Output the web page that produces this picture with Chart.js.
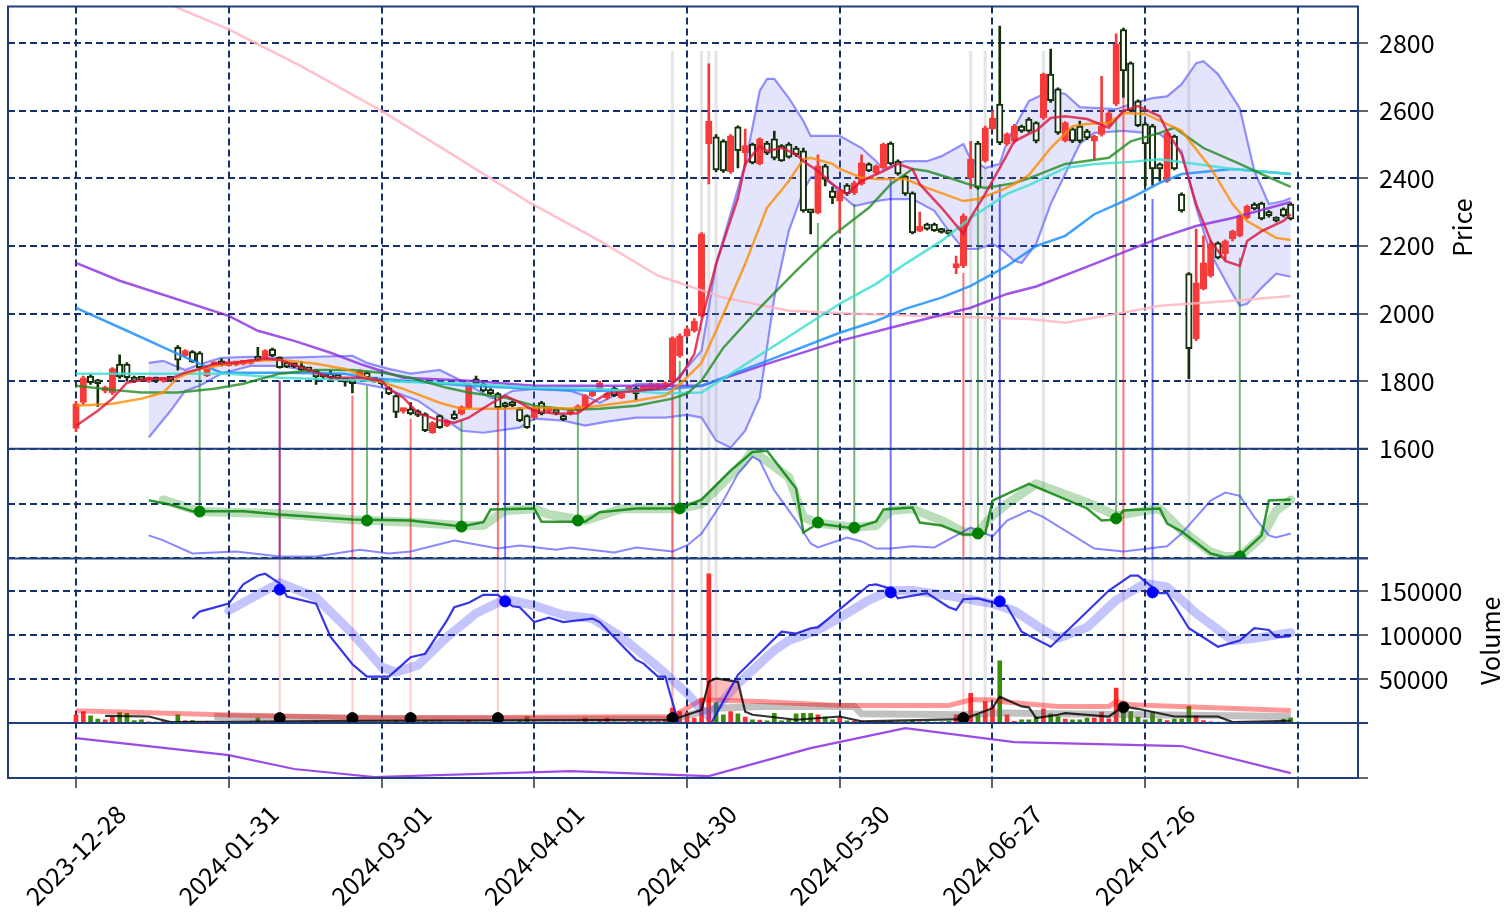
<!DOCTYPE html>
<html>
<head>
<meta charset="utf-8">
<script src="https://cdn.jsdelivr.net/npm/chart.js@4.4.1/dist/chart.umd.min.js"></script>
<style>
  html, body { margin: 0; padding: 0; background: #fff; }
  canvas { display: block; }
</style>
</head>
<body>
<canvas id="chart" width="1504" height="914"></canvas>
<script>
// x tick labels, one every 21 trading days
const tickLabels = ['2023-12-28', '2024-01-31', '2024-03-01', '2024-04-01', '2024-04-30', '2024-05-30', '2024-06-27', '2024-07-26', ''];
const tickEvery = 21;

// daily candles
const opens = [
  1660, 1737, 1815, 1800, 1770, 1765, 1850, 1850, 1812, 1810,
  1800, 1810, 1800, 1810, 1900, 1875, 1887, 1884, 1816, 1845,
  1860, 1846, 1848, 1850, 1852, 1870, 1868, 1895, 1870, 1855,
  1850, 1845, 1838, 1832, 1820, 1822, 1815, 1805, 1800, 1810,
  1825, 1807, 1801, 1780, 1757, 1710, 1718, 1712, 1703, 1647,
  1698, 1668, 1703, 1703, 1721, 1807, 1792, 1775, 1763, 1733,
  1736, 1718, 1698, 1692, 1736, 1710, 1712, 1698, 1703, 1712,
  1721, 1757, 1777, 1751, 1780, 1751, 1771, 1780, 1771, 1777,
  1780, 1783, 1801, 1875, 1934, 1949, 1993, 2502, 2523, 2511,
  2420, 2553, 2476, 2502, 2443, 2505, 2517, 2497, 2502, 2490,
  2482, 2304, 2298, 2437, 2363, 2333, 2380, 2357, 2384, 2443,
  2416, 2432, 2505, 2451, 2407, 2357, 2244, 2265, 2265, 2250,
  2244, 2136, 2141, 2402, 2505, 2452, 2547, 2620, 2502, 2510,
  2555, 2576, 2565, 2579, 2709, 2665, 2512, 2547, 2555, 2540,
  2510, 2530, 2560, 2620, 2841, 2742, 2630, 2562, 2556, 2443,
  2392, 2525, 2354, 2118, 1925, 2073, 2111, 2209, 2177, 2221,
  2230, 2283, 2324, 2327, 2300, 2283, 2310, 2324
];
const highs = [
  1740, 1815, 1820, 1805, 1785, 1840, 1878, 1855, 1815, 1812,
  1812, 1812, 1810, 1812, 1905, 1893, 1890, 1887, 1840, 1857,
  1866, 1855, 1858, 1860, 1863, 1900, 1893, 1898, 1872, 1857,
  1852, 1858, 1840, 1835, 1822, 1832, 1818, 1807, 1803, 1833,
  1828, 1810, 1805, 1783, 1760, 1720, 1736, 1715, 1706, 1680,
  1700, 1686, 1712, 1727, 1795, 1815, 1795, 1778, 1766, 1738,
  1740, 1722, 1700, 1724, 1740, 1720, 1716, 1701, 1718, 1730,
  1760, 1770, 1800, 1766, 1783, 1763, 1783, 1786, 1789, 1795,
  1793, 1798, 1931, 1940, 1960, 1985, 2240, 2739, 2530, 2515,
  2530, 2556, 2546, 2505, 2520, 2510, 2540, 2500, 2506, 2495,
  2490, 2306, 2470, 2442, 2375, 2367, 2385, 2392, 2470, 2446,
  2440, 2505, 2508, 2455, 2410, 2360, 2300, 2268, 2268, 2252,
  2246, 2170, 2295, 2510, 2510, 2555, 2600, 2851, 2535, 2560,
  2558, 2580, 2568, 2712, 2783, 2668, 2568, 2550, 2570, 2545,
  2528, 2702, 2598, 2828, 2845, 2745, 2633, 2565, 2560, 2446,
  2538, 2528, 2357, 2121, 2250, 2230, 2215, 2212, 2218, 2247,
  2292, 2321, 2328, 2330, 2305, 2286, 2313, 2328
];
const lows = [
  1650, 1730, 1790, 1725, 1765, 1760, 1808, 1800, 1795, 1798,
  1796, 1795, 1797, 1798, 1832, 1872, 1855, 1838, 1813, 1843,
  1845, 1844, 1846, 1848, 1850, 1858, 1865, 1872, 1838, 1840,
  1840, 1830, 1826, 1790, 1808, 1800, 1803, 1785, 1765, 1808,
  1808, 1797, 1790, 1760, 1692, 1705, 1700, 1695, 1650, 1645,
  1660, 1665, 1686, 1700, 1718, 1790, 1768, 1760, 1718, 1720,
  1724, 1680, 1660, 1690, 1700, 1706, 1700, 1683, 1700, 1708,
  1718, 1754, 1774, 1745, 1754, 1748, 1768, 1745, 1768, 1774,
  1777, 1780, 1798, 1870, 1930, 1945, 1990, 2384, 2420, 2418,
  2415, 2431, 2437, 2443, 2440, 2470, 2455, 2450, 2460, 2465,
  2300, 2236, 2295, 2378, 2325, 2239, 2350, 2352, 2380, 2420,
  2412, 2430, 2440, 2410, 2350, 2236, 2242, 2247, 2243, 2238,
  2230, 2118, 2136, 2370, 2368, 2448, 2545, 2500, 2498, 2505,
  2536, 2537, 2505, 2575, 2625, 2530, 2508, 2506, 2506, 2515,
  2457, 2525, 2556, 2615, 2640, 2597, 2553, 2378, 2380, 2392,
  2388, 2425, 2300, 1807, 1920, 2070, 2108, 2162, 2160, 2215,
  2227, 2280, 2307, 2277, 2285, 2271, 2286, 2277
];
const closes = [
  1733, 1810, 1795, 1792, 1780, 1837, 1812, 1810, 1800, 1803,
  1808, 1800, 1807, 1802, 1862, 1890, 1857, 1840, 1837, 1854,
  1848, 1852, 1856, 1857, 1860, 1862, 1890, 1875, 1840, 1842,
  1843, 1832, 1830, 1812, 1812, 1810, 1808, 1797, 1792, 1830,
  1810, 1800, 1792, 1763, 1707, 1714, 1703, 1698, 1653, 1677,
  1662, 1683, 1689, 1724, 1792, 1792, 1771, 1763, 1721, 1724,
  1727, 1683, 1662, 1721, 1703, 1716, 1705, 1686, 1715, 1727,
  1757, 1766, 1795, 1763, 1757, 1760, 1780, 1763, 1786, 1792,
  1790, 1795, 1928, 1934, 1955, 1978, 2236, 2570, 2425, 2422,
  2526, 2482, 2497, 2446, 2517, 2475, 2460, 2452, 2463, 2470,
  2304, 2298, 2437, 2398, 2343, 2363, 2355, 2387, 2446, 2422,
  2437, 2502, 2443, 2413, 2354, 2239, 2259, 2250, 2245, 2240,
  2236, 2147, 2289, 2458, 2372, 2550, 2579, 2505, 2532, 2555,
  2540, 2540, 2510, 2709, 2630, 2535, 2565, 2510, 2510, 2520,
  2525, 2555, 2594, 2798, 2718, 2600, 2556, 2502, 2428, 2428,
  2535, 2428, 2304, 1896, 2091, 2150, 2206, 2165, 2215, 2244,
  2289, 2318, 2310, 2280, 2290, 2274, 2289, 2280
];
const volumes = [
  9500, 13000, 8300, 4500, 3800, 6800, 12000, 11000, 3000, 3800,
  1500, 1200, 1800, 1000, 9500, 2500, 3000, 1500, 2000, 1200,
  1500, 1000, 900, 1200, 1500, 5700, 2000, 1500, 1800, 1200,
  1000, 1500, 1200, 2000, 1000, 1200, 900, 1100, 1500, 1200,
  900, 1000, 1200, 1500, 2500, 1200, 1800, 1000, 2200, 1500,
  1800, 1200, 1000, 1500, 3000, 1500, 1200, 1000, 1800, 1200,
  1000, 2000, 7500, 1500, 1200, 1000, 900, 1100, 1000, 1500,
  5700, 1200, 2000, 5700, 1500, 1200, 1800, 2000, 2500, 1800,
  2000, 3000, 17000, 13000, 12000, 5700, 28000, 170000, 23000, 9500,
  13000, 10600, 6800, 3800, 3500, 2700, 11000, 2700, 3800, 10600,
  11000, 11000, 9500, 6800, 3800, 5700, 2500, 2000, 2200, 1800,
  1500, 1800, 2000, 1500, 1800, 2500, 1500, 1800, 1200, 1500,
  2000, 9500, 7500, 34000, 9500, 24600, 19000, 71000, 9500, 1900,
  3800, 3800, 6800, 16300, 10600, 7500, 4500, 3800, 3800, 5700,
  5700, 12500, 4900, 40000, 11000, 13000, 6800, 3800, 12000, 4500,
  3000, 4500, 4500, 19000, 8300, 3000, 1500, 1100, 1200, 1000,
  1500, 1200, 1000, 1500, 1200, 1500, 4500, 6000
];

// moving averages on the price panel, [day index, price]
const maRed = [[0,1668],[3,1712],[5,1748],[7,1795],[10,1807],[13,1807],[15,1825],[17,1836],[19,1851],[22,1854],[26,1866],[28,1863],[31,1840],[35,1810],[39,1810],[42,1801],[43,1777],[45,1751],[47,1706],[50,1683],[52,1677],[54,1692],[57,1733],[59,1757],[61,1736],[63,1712],[66,1703],[69,1705],[71,1736],[73,1763],[77,1771],[81,1780],[83,1810],[85,1880],[86,1978],[88,2147],[91,2342],[92,2443],[94,2496],[95,2481],[97,2490],[99,2472],[100,2451],[102,2422],[104,2383],[106,2354],[108,2392],[111,2422],[113,2443],[115,2428],[116,2383],[119,2313],[122,2236],[123,2283],[125,2354],[127,2431],[129,2510],[131,2532],[132,2541],[134,2579],[136,2584],[139,2576],[142,2550],[144,2600],[146,2614],[149,2584],[150,2540],[152,2471],[154,2324],[156,2215],[158,2156],[160,2141],[161,2215],[163,2244],[166,2274],[167,2294]];
const maOrange = [[0,1727],[5,1733],[9,1748],[12,1766],[14,1810],[17,1836],[21,1851],[25,1860],[28,1863],[33,1851],[37,1836],[40,1810],[45,1777],[50,1736],[53,1718],[59,1718],[63,1721],[68,1719],[72,1727],[77,1742],[81,1757],[83,1790],[86,1854],[88,1949],[92,2147],[95,2313],[98,2392],[100,2457],[101,2461],[104,2443],[105,2428],[108,2402],[110,2398],[114,2398],[117,2372],[122,2333],[124,2339],[127,2363],[129,2383],[131,2410],[134,2490],[137,2555],[139,2561],[142,2565],[144,2594],[147,2591],[150,2561],[152,2541],[156,2431],[159,2324],[161,2274],[165,2224],[167,2218]];
const maGreen = [[0,1786],[5,1774],[9,1766],[14,1766],[19,1777],[23,1792],[28,1822],[33,1833],[38,1833],[42,1825],[46,1810],[51,1780],[54,1766],[59,1751],[63,1727],[68,1715],[72,1718],[77,1727],[82,1748],[84,1763],[86,1801],[89,1899],[94,2017],[99,2126],[104,2230],[109,2313],[112,2383],[115,2428],[117,2422],[120,2402],[123,2381],[125,2372],[129,2386],[131,2400],[136,2443],[142,2461],[145,2510],[149,2535],[151,2550],[155,2490],[160,2443],[163,2413],[167,2375]];
const maTurquoise = [[0,1822],[12,1822],[21,1822],[28,1810],[37,1804],[40,1801],[54,1792],[63,1780],[72,1777],[81,1763],[86,1766],[105,2029],[110,2088],[114,2147],[119,2215],[123,2283],[128,2354],[131,2380],[136,2431],[140,2443],[145,2449],[149,2457],[154,2443],[159,2428],[167,2413]];
const maBlue = [[0,2017],[7,1949],[13,1890],[17,1851],[20,1825],[28,1825],[37,1822],[40,1810],[54,1786],[63,1777],[72,1771],[81,1775],[86,1786],[95,1860],[105,1943],[110,1978],[114,2014],[119,2047],[123,2082],[128,2141],[132,2200],[136,2230],[140,2294],[145,2342],[149,2387],[152,2413],[159,2428],[167,2413]];
const maPurple = [[0,2150],[6,2097],[21,1993],[25,1949],[30,1919],[35,1884],[39,1851],[42,1830],[45,1810],[54,1801],[63,1786],[72,1786],[81,1786],[86,1786],[95,1851],[105,1919],[114,1969],[123,2017],[128,2058],[132,2080],[140,2147],[149,2224],[154,2259],[159,2283],[167,2330]];
const maPink = [[10,2950],[14,2905],[21,2841],[31,2732],[42,2600],[51,2481],[62,2333],[72,2215],[80,2112],[89,2047],[98,2008],[107,1999],[122,1990],[131,1984],[136,1973],[143,1999],[149,2023],[159,2038],[167,2052]];

// bollinger bands
const bbUpper = [[10,1854],[12,1860],[15,1833],[17,1850],[20,1869],[24,1872],[28,1869],[38,1875],[40,1854],[43,1836],[46,1822],[50,1833],[53,1801],[57,1751],[58,1748],[60,1771],[63,1777],[68,1771],[70,1757],[72,1736],[74,1757],[77,1792],[82,1792],[84,1840],[86,1890],[88,2147],[92,2443],[94,2659],[95,2695],[96,2695],[98,2638],[100,2570],[101,2526],[105,2526],[108,2490],[110,2451],[111,2428],[114,2451],[117,2451],[119,2466],[122,2502],[123,2457],[125,2431],[127,2443],[128,2510],[131,2629],[134,2659],[136,2650],[138,2611],[143,2605],[145,2620],[148,2638],[150,2643],[152,2679],[154,2741],[155,2747],[157,2709],[160,2608],[162,2422],[164,2324],[166,2333],[167,2342]];
const bbLower = [[10,1633],[13,1712],[15,1771],[17,1786],[20,1822],[24,1845],[28,1845],[33,1828],[37,1801],[42,1781],[43,1774],[47,1742],[53,1653],[56,1647],[61,1662],[63,1689],[67,1683],[70,1668],[73,1680],[77,1692],[81,1692],[84,1700],[86,1692],[88,1624],[90,1603],[92,1653],[94,1751],[96,2047],[98,2245],[100,2363],[101,2402],[102,2407],[104,2383],[105,2354],[107,2318],[110,2333],[112,2339],[115,2339],[118,2304],[120,2244],[122,2191],[124,2191],[126,2206],[127,2194],[129,2156],[130,2150],[132,2206],[134,2324],[136,2413],[138,2502],[140,2535],[144,2541],[147,2535],[149,2531],[152,2481],[154,2313],[156,2177],[159,2058],[160,2023],[161,2029],[163,2076],[165,2118],[167,2109]];

// second panel: signal line, its smoothed band, oscillator
const sigLine = [[10,53],[13,49],[16,43],[23,43],[28,40],[38,35.5],[46,34.5],[53,29],[56,33],[57,44.5],[63,45.5],[64,33.5],[70,33.5],[72,42],[77,45.5],[83,45.5],[86,53.5],[90,80],[93,97],[95,98],[99,63.6],[100,23.6],[102,31.8],[107,27.3],[110,33.6],[111,44.5],[115,46.4],[116,32.7],[119,30],[122,21.8],[124,21.8],[125,22.7],[126,52.7],[131,68],[139,45.5],[141,34.5],[143,35.5],[144,43.6],[149,45.5],[150,31.8],[152,24.5],[156,4.5],[158,1],[160,2.7],[163,21],[164,52.7],[167,53.6]];
const sigBand = [[12,53.3],[17,42.7],[28,40.6],[38,35.2],[46,33],[53,30],[56,30],[59,43.6],[63,45.2],[65,40],[70,34.5],[75,45.2],[83,45.2],[86,49.7],[92,89],[93,98],[98,74],[100,37.6],[102,32],[107,28.5],[110,30],[112,43.6],[115,45.2],[119,34.5],[122,24],[124,24],[126,39],[128,49.7],[132,68],[139,51],[143,39],[147,43.6],[149,45.2],[152,25.5],[156,5.7],[158,1.8],[160,1.8],[163,19.4],[165,43.6],[167,53.3]];
const oscLine = [[10,21],[12,16.4],[16,4.5],[22,6.4],[28,1.8],[33,1.8],[39,8],[43,4.5],[46,6.4],[52,16.4],[58,9],[61,11.8],[66,8],[68,10],[74,5.5],[77,10],[82,6.4],[84,11.8],[86,22.7],[89,52.7],[91,77],[93,92.7],[94,89],[96,62],[99,34.5],[101,13.6],[102,10],[106,19],[108,15.5],[110,9],[112,9],[115,11],[118,10],[123,28],[126,20],[128,34.5],[131,43.6],[133,37.6],[140,9],[144,6.4],[150,11],[152,22.7],[156,52.7],[158,60],[160,57],[162,37.6],[164,21],[165,19],[167,22.7]];

// volume panel lines
const volOsc = [[16,119000],[17,127000],[21,136000],[23,158000],[25,168000],[26,170000],[28,159000],[29,144000],[33,136000],[35,98000],[38,67000],[40,53000],[43,53000],[44,60000],[46,75000],[48,79000],[51,117000],[52,132000],[54,137000],[56,146000],[58,146000],[60,133000],[61,132000],[63,115000],[65,120000],[67,115000],[71,119000],[72,115000],[75,89000],[77,72000],[78,68000],[80,53000],[81,53000],[83,-5000],[85,-40000],[87,-5000],[91,55000],[97,104000],[99,102000],[101,108000],[102,109000],[109,157000],[110,158000],[112,153000],[113,142000],[117,148000],[120,132000],[121,129000],[122,141000],[124,142000],[128,133000],[130,104000],[134,87000],[142,151000],[145,168000],[146,168000],[149,148000],[150,148000],[153,108000],[157,87000],[160,94000],[162,108000],[164,106000],[165,98000],[167,99000]];
const volOscBand = [[21,128000],[28,160000],[33,143000],[38,102000],[42,64000],[44,58000],[47,66000],[51,98000],[55,125000],[59,141000],[63,134000],[67,123000],[71,119000],[75,98000],[80,64000],[84,34000],[86,15000],[87,8000],[91,45000],[96,83000],[98,94000],[102,106000],[105,120000],[109,140000],[112,151000],[115,151000],[120,145000],[126,136000],[129,128000],[133,106000],[135,96500],[139,109000],[143,140000],[147,159000],[150,155000],[154,125000],[159,94000],[162,96500],[167,103000]];
const volMaRed = [[0,14000],[20,9500],[41,5700],[82,7500],[86,26500],[94,24600],[105,20000],[120,20000],[123,26500],[126,26500],[127,24600],[135,19000],[142,19000],[143,24600],[145,20800],[167,14400]];
const volMaGray = [[19,7500],[40,5500],[60,4500],[82,4500],[88,17000],[94,19000],[107,19000],[108,10600],[122,9500],[127,11400],[167,7500]];
const volMaBlack = [[4,8300],[10,7500],[13,1100],[40,2700],[82,3800],[86,15000],[87,47000],[88,51000],[91,47000],[92,13000],[93,9500],[99,3800],[105,7500],[108,1900],[122,4500],[126,17000],[127,30000],[130,19000],[131,18000],[132,5700],[135,9500],[136,11400],[142,7500],[144,19000],[146,16300],[151,7500],[157,7500],[159,1100],[167,2700]];

// bottom panel
const lowerLine = [[0,72.7],[21,41.8],[30,16.4],[41,1.8],[68,12.7],[87,3.6],[101,54.5],[114,90.9],[129,65.5],[152,58.2],[167,9]];

// signals: [day, price where the line starts, value of the marker it ends on]
const greenSignals = [[17,1845,42.7],[40,1786,34.5],[53,1683,29],[69,1703,34.5],[83,1860,45.5],[102,2268,32.7],[107,2324,28],[124,2383,22.7],[143,2576,36.4],[160,2165,1.8]];
const redSignals = [[28,1801,5700],[38,1757,5700],[46,1689,5700],[58,1763,5700],[82,1801,5700],[122,2121,5700],[144,2638,18000]];
const blueSignals = [[28,1801,152000],[59,1721,138600],[112,2402,148800],[127,2383,138600],[148,2339,148800]];
const grayDays = [82, 86, 87, 88, 123, 125, 133, 153];
const grayTop = 2777;

// axis ranges
const PRICE_MIN = 1600, PRICE_MAX = 2909;
const VOL_MAX = 187500;

const FONT = '"Noto Sans CJK JP", "Noto Sans", sans-serif';
const GRID = '#15306a';
const FRAME = '#1f3f7a';
const RED = '#f73b3b';
const DARK = '#13300a';

const days = opens.map((_, i) => i);
const isUp = i => closes[i] >= opens[i];

function line(pairs, yAxisID, color, width, order, extra) {
  return Object.assign({
    type: 'line',
    data: pairs.map(([x, y]) => ({ x, y })),
    xAxisID: 'x',
    yAxisID,
    borderColor: color,
    borderWidth: width,
    pointRadius: 0,
    tension: 0,
    fill: false,
    order
  }, extra || {});
}

function segments(yAxisID, color, width, order, pieces) {
  const data = [];
  pieces.forEach(([x, a, b]) => {
    data.push({ x, y: a }, { x, y: b }, { x, y: null });
  });
  return { type: 'line', data, xAxisID: 'x', yAxisID, borderColor: color, borderWidth: width, pointRadius: 0, spanGaps: false, fill: false, order };
}

function dots(list, yAxisID, color) {
  return {
    type: 'line',
    data: list.map(([x, , y]) => ({ x, y })),
    xAxisID: 'x', yAxisID,
    showLine: false,
    pointRadius: 5.5,
    pointBackgroundColor: color,
    pointBorderColor: color,
    order: 1
  };
}

const datasets = [
  // bollinger fill between upper and lower
  line(bbUpper, 'y', 'rgba(60,60,255,0.55)', 2.2, 60, { fill: '+1', backgroundColor: 'rgba(120,120,240,0.2)' }),
  line(bbLower, 'y', 'rgba(60,60,255,0.55)', 2.2, 59),

  // light grey marker lines
  segments('y', 'rgba(150,150,150,0.25)', 3, 55, grayDays.map(d => [d, grayTop, PRICE_MIN])),
  segments('y2', 'rgba(150,150,150,0.25)', 3, 55, grayDays.map(d => [d, 100, 0])),
  segments('yv', 'rgba(150,150,150,0.25)', 3, 55, grayDays.map(d => [d, VOL_MAX, 0])),

  // signal lines
  segments('y', 'rgba(0,128,0,0.55)', 2, 50, greenSignals.map(([d, p]) => [d, p, PRICE_MIN])),
  segments('y2', 'rgba(0,128,0,0.55)', 2, 50, greenSignals.map(([d, , v]) => [d, 100, v])),
  segments('y', 'rgba(255,0,0,0.55)', 2, 50, redSignals.map(([d, p]) => [d, p, PRICE_MIN])),
  segments('y2', 'rgba(255,0,0,0.55)', 2, 50, redSignals.map(([d]) => [d, 100, 0])),
  segments('yv', 'rgba(255,0,0,0.2)', 2, 50, redSignals.map(([d, , v]) => [d, VOL_MAX, v])),
  segments('y', 'rgba(0,0,255,0.55)', 2, 50, blueSignals.map(([d, p]) => [d, p, PRICE_MIN])),
  segments('y2', 'rgba(0,0,255,0.55)', 2, 50, blueSignals.map(([d]) => [d, 100, 0])),
  segments('yv', 'rgba(0,0,255,0.2)', 2, 50, blueSignals.map(([d, , v]) => [d, VOL_MAX, v])),

  // candles
  {
    type: 'bar', xAxisID: 'x', yAxisID: 'y', grouped: false, order: 45,
    data: days.map(i => ({ x: i, y: [lows[i], highs[i]] })),
    backgroundColor: days.map(i => isUp(i) ? RED : DARK),
    barThickness: 2
  },
  {
    type: 'bar', xAxisID: 'x', yAxisID: 'y', grouped: false, order: 44,
    data: days.map(i => ({ x: i, y: [opens[i], closes[i]] })),
    backgroundColor: days.map(i => isUp(i) ? RED : '#ffffff'),
    borderColor: days.map(i => isUp(i) ? RED : DARK),
    borderWidth: 2,
    borderSkipped: false,
    minBarLength: 4,
    barThickness: 6.5
  },

  // moving averages
  line(maPink, 'y', 'rgba(255,182,193,0.85)', 2.5, 28),
  line(maPurple, 'y', 'rgba(138,43,226,0.8)', 2.5, 27),
  line(maBlue, 'y', 'rgba(30,144,255,0.85)', 2.5, 26),
  line(maTurquoise, 'y', 'rgba(64,224,208,0.85)', 2.5, 25),
  line(maGreen, 'y', 'rgba(34,139,34,0.8)', 2.5, 24),
  line(maOrange, 'y', 'rgba(255,140,0,0.8)', 2.5, 23),
  line(maRed, 'y', 'rgba(220,20,60,0.8)', 2.5, 22),

  // second panel
  line(sigBand, 'y2', 'rgba(0,128,0,0.27)', 9, 40, { borderCapStyle: 'round', borderJoinStyle: 'round' }),
  line(oscLine, 'y2', 'rgba(40,40,255,0.55)', 2, 35),
  line(sigLine, 'y2', 'rgba(0,128,0,0.8)', 2.5, 30),

  // volume panel
  {
    type: 'bar', xAxisID: 'x', yAxisID: 'yv', grouped: false, order: 45,
    data: days.map(i => ({ x: i, y: volumes[i] })),
    backgroundColor: days.map(i => isUp(i) ? '#ff2d2d' : '#3a8c0a'),
    barThickness: 4
  },
  line(volMaGray, 'yv', 'rgba(100,100,100,0.4)', 7, 41),
  line(volMaBlack, 'yv', 'rgba(0,0,0,0.8)', 2.2, 35, {
    fill: { target: '+1', above: 'rgba(255,70,70,0.35)', below: 'rgba(0,0,0,0)' }
  }),
  line(volMaRed, 'yv', 'rgba(255,0,0,0.4)', 5, 40),
  line(volOscBand, 'yv', 'rgba(60,60,255,0.3)', 9, 38, { borderCapStyle: 'round', borderJoinStyle: 'round' }),
  line(volOsc, 'yv', 'rgba(20,20,230,0.85)', 2.2, 30),

  // bottom panel
  line(lowerLine, 'y4', 'rgba(138,43,226,0.85)', 2.2, 30),

  // markers
  dots(greenSignals, 'y2', '#008000'),
  dots(redSignals, 'yv', '#000000'),
  dots(blueSignals, 'yv', '#0000ff')
];

function yScale(min, max, weight, tickValues, label) {
  return {
    type: 'linear',
    position: 'right',
    stack: 'panels',
    stackWeight: weight,
    min, max,
    grid: { color: GRID, lineWidth: 2, tickLength: 10, tickColor: '#222', tickWidth: 1.4, tickBorderDash: [] },
    border: { display: false, dash: [7, 4] },
    ticks: { autoSkip: false, padding: 11, color: '#000', font: { family: FONT, size: 25 }, callback: label },
    afterBuildTicks: s => { s.ticks = tickValues.map(v => ({ value: v })); },
    afterFit: s => { s.width = 146; s.paddingTop = 0; s.paddingBottom = 0; }
  };
}

const framePlugin = {
  id: 'frame',
  afterDraw(chart) {
    const { ctx, chartArea: a } = chart;
    ctx.save();
    ctx.strokeStyle = FRAME;
    ctx.lineWidth = 2;
    ['y', 'y2', 'yv'].forEach(id => {
      const b = chart.scales[id].bottom;
      ctx.beginPath();
      ctx.moveTo(a.left, b);
      ctx.lineTo(a.right + 10, b);
      ctx.stroke();
    });
    ctx.strokeRect(a.left, a.top, a.right - a.left, a.bottom - a.top);
    ctx.restore();
  }
};

const titlePlugin = {
  id: 'axisTitles',
  afterDraw(chart) {
    const { ctx } = chart;
    [['y', 'Price', 104], ['yv', 'Volume', 132]].forEach(([id, text, dx]) => {
      const s = chart.scales[id];
      ctx.save();
      ctx.translate(s.left + dx, (s.top + s.bottom) / 2);
      ctx.rotate(-Math.PI / 2);
      ctx.fillStyle = '#000';
      ctx.font = '25px ' + FONT;
      ctx.textAlign = 'center';
      ctx.textBaseline = 'middle';
      ctx.fillText(text, 0, 0);
      ctx.restore();
    });
  }
};

new Chart(document.getElementById('chart').getContext('2d'), {
  type: 'bar',
  data: { datasets },
  options: {
    responsive: false,
    animation: false,
    devicePixelRatio: 1,
    events: [],
    layout: { padding: { left: 8, top: 5, right: 0, bottom: 0 } },
    plugins: { legend: { display: false }, tooltip: { enabled: false } },
    scales: {
      x: {
        type: 'linear',
        position: 'bottom',
        min: -9.35,
        max: 176.25,
        offset: false,
        grid: { color: GRID, lineWidth: 2, tickLength: 10, tickColor: '#222', tickWidth: 1.4, tickBorderDash: [], offset: false },
        border: { display: false, dash: [7, 4] },
        ticks: {
          autoSkip: false,
          maxRotation: 45,
          minRotation: 45,
          padding: 11,
          labelOffset: 45,
          color: '#000',
          font: { family: FONT, size: 25 },
          callback: v => {
            const k = v / tickEvery;
            return Number.isInteger(k) ? (tickLabels[k] || '') : '';
          }
        },
        afterBuildTicks: s => { s.ticks = tickLabels.map((_, k) => ({ value: k * tickEvery })); },
        afterFit: s => { s.height = 136; s.paddingLeft = 0; s.paddingRight = 0; }
      },
      y: yScale(PRICE_MIN, PRICE_MAX, 443, [1600, 1800, 2000, 2200, 2400, 2600, 2800], v => String(v)),
      y2: yScale(0, 100, 110, [0, 50], () => ''),
      yv: yScale(0, VOL_MAX, 165, [0, 50000, 100000, 150000], v => v === 0 ? '' : String(v)),
      y4: yScale(0, 100, 55, [0], () => '')
    }
  },
  plugins: [framePlugin, titlePlugin]
});
</script>
</body>
</html>
